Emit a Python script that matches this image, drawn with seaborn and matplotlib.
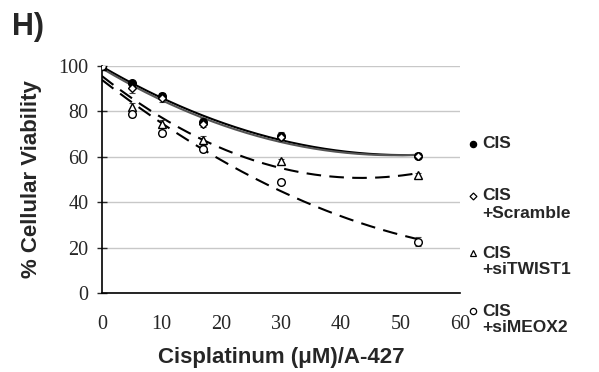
import numpy as np
import pandas as pd
import seaborn as sns
import matplotlib.pyplot as plt
from matplotlib.lines import Line2D

# data
dose = [0, 5, 10, 17, 30, 53]
cis = [100, 92.5, 87, 75.5, 69, 60.5]
cis_err = [0.5, 1.0, 1.2, 1.5, 2.0, 1.2]
scramble = [100, 90.5, 86, 74.5, 68.5, 60.5]
scramble_err = [0.5, 2.5, 2.0, 1.5, 1.5, 1.0]
twist = [100, 82, 74.5, 67.5, 58, 52]
twist_err = [0.5, 1.5, 1.5, 1.5, 1.0, 1.0]
meox = [100, 79, 70.5, 63.5, 49, 22.5]
meox_err = [0.5, 1.5, 1.5, 1.5, 1.0, 2.0]

labels = [["CIS"], ["CIS", "+Scramble"], ["CIS", "+siTWIST1"], ["CIS", "+siMEOX2"]]
series = [cis, scramble, twist, meox]
errs = [cis_err, scramble_err, twist_err, meox_err]
markers = ["o", "D", "^", "o"]
faces = ["black", "white", "white", "white"]
sizes = [5.5, 4.5, 5.5, 5.5]
line_col = ["black", "#555555", "black", "black"]
line_style = ["-", "-", (0, (7, 4)), (0, (7, 4))]

sns.set_style("white")
plt.rcParams["font.family"] = ["Liberation Sans", "DejaVu Sans"]

W, H = 599, 372
fig = plt.figure(figsize=(W / 100, H / 100), dpi=100)
ax = fig.add_axes([0.170, 0.2124, 0.598, 0.6102])

xfit = np.linspace(0, 53, 200)
for i, y in enumerate(series):
    coef = np.polyfit(dose, y, 2)
    fit = pd.DataFrame({"x": xfit, "y": np.polyval(coef, xfit)})
    sns.lineplot(data=fit, x="x", y="y", ax=ax, color=line_col[i],
                 linestyle=line_style[i], linewidth=1.5, zorder=2)

for i, y in enumerate(series):
    ax.errorbar(dose, y, yerr=errs[i], fmt="none", ecolor="#444444",
                elinewidth=0.8, capsize=2.5, capthick=0.8, zorder=3)
    ax.plot(dose, y, linestyle="none", marker=markers[i], ms=sizes[i],
            mfc=faces[i], mec="black", mew=1.0, zorder=4)

ax.set_xlim(0, 60)
ax.set_ylim(0, 100)
ax.set_xticks(range(0, 61, 10))
ax.set_yticks(range(0, 101, 20))
ax.yaxis.grid(True, color="#c8c8c8", linewidth=1)
ax.set_axisbelow(True)
for s in ["top", "right"]:
    ax.spines[s].set_visible(False)
for s in ["left", "bottom"]:
    ax.spines[s].set_color("black")
    ax.spines[s].set_linewidth(1.2)
ax.tick_params(axis="y", direction="inout", length=7, width=1, left=True, pad=6)
ax.tick_params(axis="x", bottom=False, pad=12)
ax.tick_params(labelsize=14.5)
for t in ax.get_xticklabels() + ax.get_yticklabels():
    t.set_family("Liberation Serif")
ax.set_xlabel("Cisplatinum (μM)/A-427", fontsize=16, fontweight="bold", labelpad=10)
ax.set_ylabel("% Cellular Viability", fontsize=16, fontweight="bold", labelpad=12)

# legend to the right, marker beside the first line of each entry
entry_y = [144, 196, 253, 311]
for i, lines in enumerate(labels):
    y0 = entry_y[i]
    fig.add_artist(Line2D([473 / W], [1 - y0 / H], linestyle="none",
                          marker=markers[i], ms=sizes[i] - 1, mfc=faces[i],
                          mec="black", mew=0.9, transform=fig.transFigure))
    for k, txt in enumerate(lines):
        fig.text(482 / W, 1 - (y0 + 17 * k) / H, txt, fontsize=12.5,
                 fontweight="bold", va="center", ha="left")

fig.text(12 / W, 1 - 27 / H, "H)", fontsize=22, fontweight="bold", va="center")

fig.savefig("out.png", dpi=100)
